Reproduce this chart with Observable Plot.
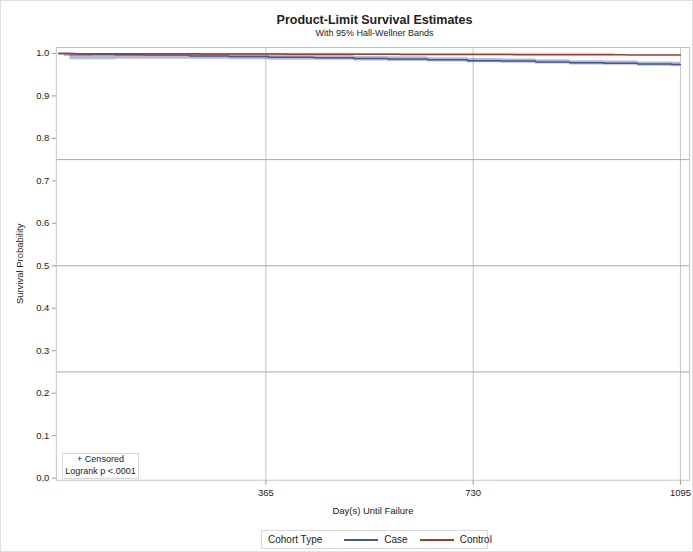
<!DOCTYPE html>
<html>
<head>
<meta charset="utf-8">
<script src="https://cdn.jsdelivr.net/npm/d3@7"></script>
<script src="https://cdn.jsdelivr.net/npm/@observablehq/plot@0.6"></script>
<style>
  html, body { margin: 0; padding: 0; background: #fff; }
  #page { position: relative; width: 693px; height: 552px; box-sizing: border-box; border: 1px solid #e0e0e0; font-family: "Liberation Sans", Arial, sans-serif; color: #222; overflow: hidden; }
  #title { position: absolute; left: 55px; width: 637px; top: 12px; text-align: center; font-weight: bold; font-size: 12.5px; }
  #subtitle { position: absolute; left: 55px; width: 637px; top: 27px; text-align: center; font-size: 9px; }
  #chart { position: absolute; left: 0; top: 40px; }
  #inset { position: absolute; left: 61px; top: 452px; width: 75px; height: 24px; border: 1px solid #d8d8d8; font-size: 9px; text-align: center; line-height: 11.5px; background: #fff; white-space: nowrap; }
  #legend { position: absolute; left: 260px; top: 529px; width: 225px; height: 17px; border: 1px solid #d8d8d8; font-size: 10px; display: flex; align-items: center; white-space: nowrap; }
  .sw { display: inline-block; width: 34px; height: 0; border-top: 2px solid; margin: 0 6px 0 0; flex: none; }
</style>
</head>
<body>
<div id="page">
  <div id="title">Product-Limit Survival Estimates</div>
  <div id="subtitle">With 95% Hall-Wellner Bands</div>
  <div id="chart"></div>
  <div id="inset">+ Censored<br>Logrank p &lt;.0001</div>
  <div id="legend"></div>
</div>
<script>
// ---- Data ----
const xTicks = [365, 730, 1095];
const yTicks = [0, 0.1, 0.2, 0.3, 0.4, 0.5, 0.6, 0.7, 0.8, 0.9, 1.0];
const seriesNames = ["Case", "Control"];
const seriesColors = ["#445694", "#A23A2E"];

const caseTime = [0, 20, 45, 100, 150, 230, 300, 370, 450, 520, 580, 650, 720, 780, 840, 900, 960, 1020, 1080, 1095];
const caseSurv = [1.000, 0.9995, 0.998, 0.997, 0.996, 0.994, 0.993, 0.991, 0.990, 0.988, 0.987, 0.985, 0.983, 0.982, 0.980, 0.978, 0.977, 0.975, 0.974, 0.974];
const caseBandTime  = [20, 45, 100, 150, 230, 300, 370, 450, 520, 580, 650, 720, 780, 840, 900, 960, 1020, 1080, 1095];
const caseLower = [0.985, 0.985, 0.986, 0.986, 0.986, 0.985, 0.984, 0.984, 0.982, 0.981, 0.980, 0.978, 0.977, 0.975, 0.973, 0.972, 0.970, 0.969, 0.969];
const caseUpper = [1.000, 1.000, 1.000, 0.9995, 0.998, 0.997, 0.996, 0.995, 0.993, 0.992, 0.990, 0.988, 0.987, 0.985, 0.983, 0.982, 0.980, 0.979, 0.979];

const controlTime = [0, 30, 120, 250, 400, 600, 800, 1000, 1095];
const controlSurv = [1.000, 0.9995, 0.999, 0.9985, 0.998, 0.9975, 0.997, 0.9965, 0.9965];
const controlBandTime = [10, 60, 240, 500, 700, 980];
const controlLower = [0.993, 0.994, 0.995, 0.995, 0.9955, 0.9955];
const controlUpper = [1.000, 1.000, 1.000, 0.9995, 0.999, 0.999];

// ---- Build tables ----
const lines = [
  ...caseTime.map((t, i) => ({t, s: caseSurv[i], g: "Case"})),
  ...controlTime.map((t, i) => ({t, s: controlSurv[i], g: "Control"}))
];
const bands = [
  ...caseBandTime.map((t, i) => ({t, lo: caseLower[i], hi: caseUpper[i], g: "Case"})),
  ...controlBandTime.map((t, i) => ({t, lo: controlLower[i], hi: controlUpper[i], g: "Control"}))
];

const grid = "#c4c4c4";
const chart = Plot.plot({
  width: 693,
  height: 485,
  marginTop: 6,
  marginLeft: 55,
  marginRight: 3,
  marginBottom: 45,
  style: {fontFamily: "Liberation Sans, Arial, sans-serif", fontSize: "9.5px", color: "#222", background: "transparent"},
  x: {domain: [-4, 1111]},
  y: {domain: [-0.005, 1.014]},
  color: {domain: seriesNames, range: seriesColors},
  marks: [
    Plot.gridX(xTicks, {stroke: grid, strokeOpacity: 1}),
    Plot.gridY([0.25, 0.5, 0.75], {stroke: "#a8a8a8", strokeOpacity: 1}),
    Plot.frame({stroke: grid}),
    Plot.areaY(bands, {x: "t", y1: "lo", y2: "hi", fill: "g", fillOpacity: 0.4, curve: "step-after"}),
    Plot.line(lines, {x: "t", y: "s", z: "g", stroke: "g", strokeWidth: 1.5, curve: "step-after"}),
    Plot.axisX(xTicks, {tickSize: 5, stroke: "#999", tickPadding: 4, tickFormat: d3.format("d"), label: "Day(s) Until Failure", labelAnchor: "center", labelArrow: "none", labelOffset: 34, fontSize: 9.5}),
    Plot.axisY(yTicks, {tickSize: 4, stroke: "#999", tickPadding: 3, tickFormat: d3.format(".1f"), label: "Survival Probability", labelAnchor: "center", labelArrow: "none", labelOffset: 40})
  ]
});
document.getElementById("chart").appendChild(chart);

// ---- Legend ----
const leg = document.getElementById("legend");
let html = '<span style="margin:0 22px 0 6px">Cohort Type</span>';
seriesNames.forEach((n, i) => {
  html += `<span class="sw" style="border-color:${seriesColors[i]}"></span><span style="margin-right:${i === 0 ? 12 : 0}px">${n}</span>`;
});
leg.innerHTML = html;
</script>
</body>
</html>
